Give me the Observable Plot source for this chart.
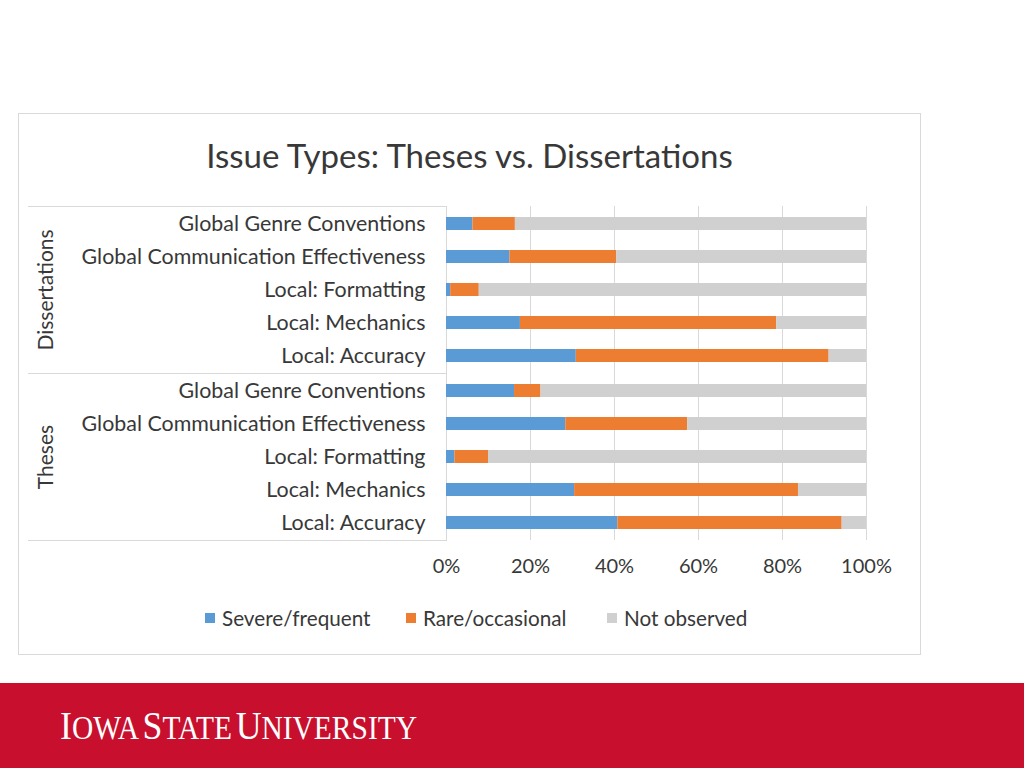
<!DOCTYPE html>
<html><head><meta charset="utf-8">
<script src="https://cdn.jsdelivr.net/npm/d3@7"></script>
<script src="https://cdn.jsdelivr.net/npm/@observablehq/plot@0.6"></script>
<style>
html,body{margin:0;padding:0;background:#fff;}
body{width:1024px;height:768px;position:relative;overflow:hidden;font-family:Lato,"Open Sans",sans-serif;}
#box{position:absolute;left:18px;top:113px;width:903px;height:542px;box-sizing:border-box;border:1px solid #d9d9d9;}
#title{position:absolute;left:0;top:22px;width:100%;text-align:center;font-size:33px;line-height:38px;color:#383838;}
#chart{position:absolute;left:0;top:76px;}
#legend{position:absolute;left:186px;top:492px;display:flex;font-size:20.7px;line-height:24px;color:#383838;}
.item{width:201px;display:flex;align-items:center;}
.sw{width:10px;height:10px;margin-right:7px;flex:none;}
#banner{position:absolute;left:0;top:683px;width:1024px;height:85px;background:#C8102E;}
#isu{position:absolute;left:60px;top:21px;white-space:nowrap;color:#fff;font-family:"Liberation Serif","DejaVu Serif",serif;line-height:44px;transform-origin:0 0;}
#isu .b{font-size:40px;}
#isu .s{font-size:33px;}
</style></head>
<body>
<div id="box">
  <div id="title">Issue Types: Theses vs. Dissertations</div>
  <div id="chart"></div>
  <div id="legend"></div>
</div>
<div id="banner">
  <div id="isu"><span class="b">I</span><span class="s">OWA</span> <span class="b">S</span><span class="s">TATE</span> <span class="b">U</span><span class="s">NIVERSITY</span></div>
</div>
<script>
const groups = ["Dissertations", "Theses"];
const categories = ["Global Genre Conventions", "Global Communication Effectiveness", "Local: Formatting", "Local: Mechanics", "Local: Accuracy"];
const seriesNames = ["Severe/frequent", "Rare/occasional", "Not observed"];
const seriesColors = ["#5B9BD5", "#ED7D31", "#D0D0D0"];
const xTicks = [0, 20, 40, 60, 80, 100];

// Dissertations (percent), in category order
const dissSevere = [6.3, 15.1, 1.0, 17.6, 30.9];
const dissRare   = [10.1, 25.4, 6.8, 61.0, 60.2];
const dissNot    = [83.6, 59.5, 92.2, 21.4, 8.9];
// Theses (percent), in category order
const thesSevere = [16.2, 28.4, 2.0, 30.5, 40.8];
const thesRare   = [6.3, 29.0, 8.0, 53.3, 53.4];
const thesNot    = [77.5, 42.6, 90.0, 16.2, 5.8];

const bySeries = {
  "Dissertations": [dissSevere, dissRare, dissNot],
  "Theses": [thesSevere, thesRare, thesNot]
};
const table = [];
groups.forEach(g => categories.forEach((c, i) => seriesNames.forEach((s, k) => {
  table.push({group: g, category: c, series: s, value: bySeries[g][k][i]});
})));

const W = 900, ML = 427, MR = 53, MT = 16, MB = 52, H = 402;
const lineColor = "#d9d9d9";
const chart = Plot.plot({
  width: W, height: H,
  marginLeft: ML, marginRight: MR, marginTop: MT, marginBottom: MB,
  style: {fontFamily: "Lato, 'Open Sans', sans-serif", fontSize: "21.4px", color: "#383838", background: "transparent"},
  x: {domain: [0, 100], axis: null},
  y: {domain: categories, paddingInner: 0.61, paddingOuter: 0.305, axis: null},
  fy: {domain: groups, padding: 0, axis: null},
  color: {domain: seriesNames, range: seriesColors},
  marks: [
    Plot.gridX(xTicks, {stroke: lineColor, strokeOpacity: 1}),
    Plot.barX(table, {x: "value", y: "category", fy: "group", fill: "series"}),
    Plot.frame({anchor: "top", stroke: lineColor, strokeOpacity: 1, insetLeft: -(ML - 9), insetRight: W - ML - MR}),
    Plot.frame({anchor: "bottom", stroke: lineColor, strokeOpacity: 1, insetLeft: -(ML - 9), insetRight: W - ML - MR}),
    Plot.axisY({tickSize: 0, tickPadding: 21, label: null}),
    Plot.axisFy({anchor: "left", tickSize: 0, tickRotate: -90, tickPadding: 394, fontSize: 21, label: null}),
    Plot.axisX(xTicks, {tickSize: 0, tickPadding: 18, fontSize: 20, tickFormat: d => d + "%", label: null})
  ]
});
document.getElementById("chart").appendChild(chart);

const legend = document.getElementById("legend");
seriesNames.forEach((s, i) => {
  const item = document.createElement("div");
  item.className = "item";
  const sw = document.createElement("span");
  sw.className = "sw";
  sw.style.background = seriesColors[i];
  item.appendChild(sw);
  item.appendChild(document.createTextNode(s));
  legend.appendChild(item);
});

// fit the wordmark to its width in the reference
const isu = document.getElementById("isu");
const w = isu.getBoundingClientRect().width;
isu.style.transform = `scaleX(${357 / w})`;
</script>
</body></html>
